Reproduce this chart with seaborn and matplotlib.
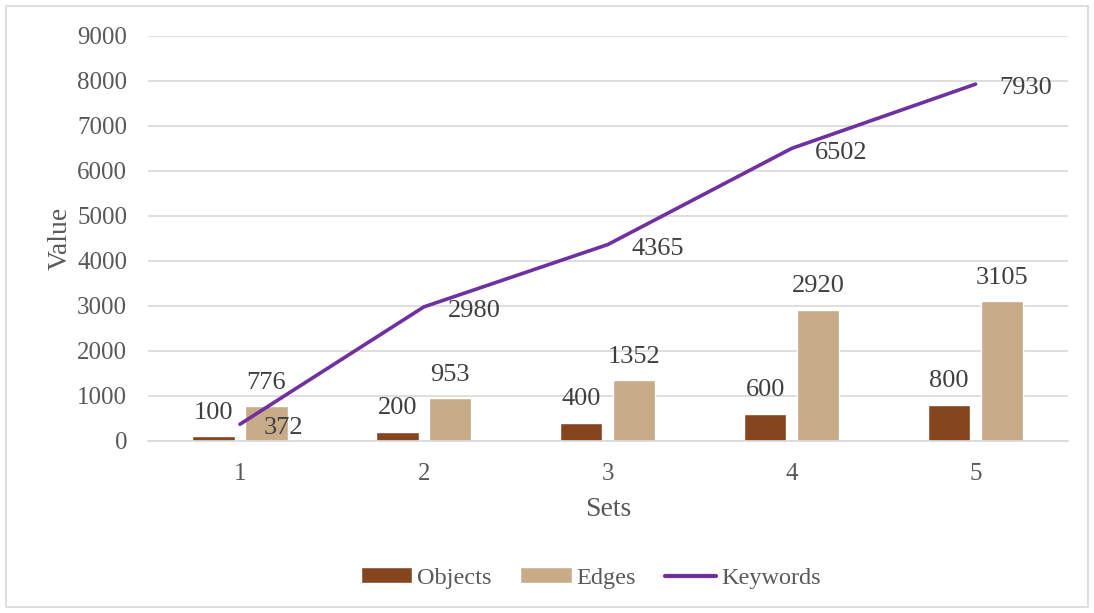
import numpy as np
import pandas as pd
import seaborn as sns
import matplotlib.pyplot as plt
from matplotlib.patches import Rectangle, Patch
from matplotlib.lines import Line2D

# data
sets = ['1', '2', '3', '4', '5']
objects = [100, 200, 400, 600, 800]
edges = [776, 953, 1352, 2920, 3105]
keywords = [372, 2980, 4365, 6502, 7930]

obj_color = '#84451F'
edge_color = '#C8AC88'
line_color = '#7030A0'
text_color = '#404040'
tick_color = '#595959'
grid_color = '#D9D9D9'

sns.set_theme(style='white')
plt.rcParams['font.family'] = ['Liberation Serif', 'DejaVu Serif']

df = pd.DataFrame({
    'Set': sets * 2,
    'Value': objects + edges,
    'Series': ['Objects'] * len(sets) + ['Edges'] * len(sets),
})

fig = plt.figure(figsize=(10.94, 6.13), dpi=100)
ax = fig.add_axes([0.1353, 0.2806, 0.8405, 0.6607])

sns.barplot(data=df, x='Set', y='Value', hue='Series',
            palette=[obj_color, edge_color], width=0.575, gap=0.2,
            saturation=1, legend=False, ax=ax, zorder=2)

for cont in ax.containers:
    ax.bar_label(cont, padding=9, fontsize=19, color=text_color)

xs = np.arange(len(sets))
sns.lineplot(x=xs, y=keywords, color=line_color, linewidth=2.6, ax=ax, zorder=3)
for x, y in zip(xs, keywords):
    ax.annotate(str(y), (x, y), xytext=(17, -3), textcoords='offset points',
                ha='left', va='center', fontsize=19, color=text_color)

ax.set_xlim(-0.5, len(sets) - 0.5)
ax.set_ylim(0, 9000)
ax.set_yticks(range(0, 9001, 1000))
ax.yaxis.grid(True, color=grid_color, linewidth=1.2, zorder=0)
ax.set_axisbelow(True)
for s in ['top', 'right', 'left']:
    ax.spines[s].set_visible(False)
ax.spines['bottom'].set_color(grid_color)
ax.spines['bottom'].set_linewidth(1.2)
ax.tick_params(axis='y', length=0, labelsize=18, labelcolor=tick_color, pad=15)
ax.tick_params(axis='x', length=0, labelsize=18, labelcolor=tick_color, pad=16)
ax.set_xlabel('Sets', fontsize=20, color=tick_color, labelpad=8.5)
ax.set_ylabel('Value', fontsize=20, color=tick_color, labelpad=3)

handles = [Patch(facecolor=obj_color), Patch(facecolor=edge_color),
           Line2D([0], [0], color=line_color, linewidth=3)]
fig.legend(handles, ['Objects', 'Edges', 'Keywords'], loc='center',
           bbox_to_anchor=(0.54, 0.057), ncol=3, frameon=False, fontsize=17.5,
           labelcolor=tick_color, handlelength=2.1, handleheight=0.6,
           handletextpad=0.2, columnspacing=1.2)

fig.patches.append(Rectangle((6 / 1094, 6 / 613), 1082 / 1094, 601 / 613,
                             transform=fig.transFigure, fill=False,
                             edgecolor=grid_color, linewidth=1.2))

fig.savefig('out.png', dpi=100)
